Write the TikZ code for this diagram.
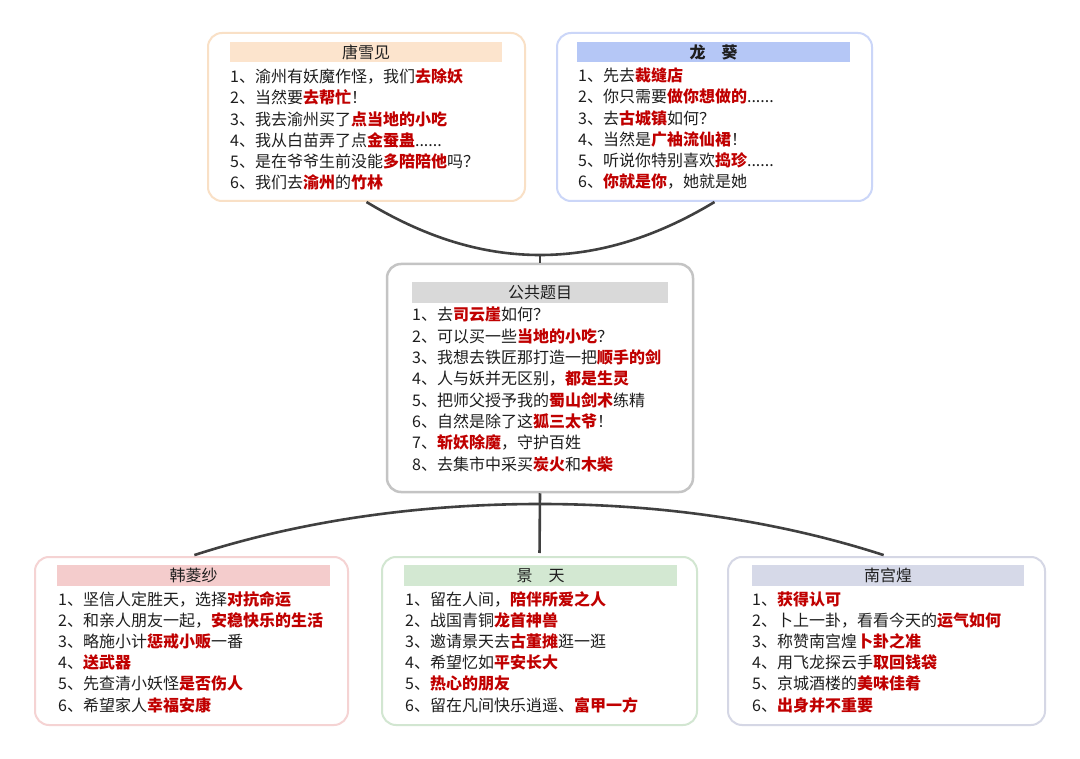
\documentclass[tikz,border=0pt]{standalone}
\usepackage{fontspec}
\setmainfont{Noto Sans CJK SC}
\definecolor{hlred}{HTML}{C00000}
\definecolor{txt}{HTML}{1E1E1E}
\definecolor{linkgray}{HTML}{404040}
\definecolor{tlbar}{HTML}{FCE4CD}
\definecolor{tlline}{HTML}{F9E0C6}
\definecolor{trbar}{HTML}{B5C7F6}
\definecolor{trline}{HTML}{CBD6F8}
\definecolor{ctbar}{HTML}{D9D9D9}
\definecolor{ctline}{HTML}{C4C4C4}
\definecolor{blbar}{HTML}{F4CCCC}
\definecolor{blline}{HTML}{F5D3D3}
\definecolor{bmbar}{HTML}{D3E8D2}
\definecolor{bmline}{HTML}{D2E6D1}
\definecolor{brbar}{HTML}{D6D9E8}
\definecolor{brline}{HTML}{D5D7E5}
\newcommand\hl[1]{\textcolor{hlred}{\bfseries #1}}
\newcommand\sixdots{......}
\tikzset{
  card/.style={line width=2pt, rounded corners=14pt, inner sep=0pt, fill=white},
  titlebar/.style={inner sep=0pt, font=\fontsize{16}{16}\selectfont, text=txt},
  item/.style={anchor=base west, inner sep=0pt, font=\fontsize{16}{16}\selectfont, text=txt},
  link/.style={draw=linkgray, line width=2.6pt},
}
\begin{document}
\begin{tikzpicture}[x=1pt,y=-1pt]
\useasboundingbox[fill=white] (0,0) rectangle (1080,759);
% cards
\node[card, draw=tlline, minimum width=317pt, minimum height=168pt] (tl) at (366.5,117) {};
\node[card, draw=trline, minimum width=315pt, minimum height=168pt] (tr) at (714.5,117) {};
\node[card, draw=ctline, line width=2.5pt, minimum width=306pt, minimum height=228pt] (ctr) at (540,378) {};
\node[card, draw=blline, minimum width=313pt, minimum height=168pt] (bl) at (191.5,641) {};
\node[card, draw=bmline, minimum width=315pt, minimum height=168pt] (bm) at (539.5,641) {};
\node[card, draw=brline, minimum width=317pt, minimum height=168pt] (br) at (886.5,641) {};
% title bars
\node[titlebar, fill=tlbar, minimum width=272pt, minimum height=20pt] (tlT) at (366,52) {唐雪见};
\node[titlebar, fill=trbar, minimum width=273pt, minimum height=20pt] (trT) at (713.5,52) {\bfseries 龙\hspace{1em}葵};
\node[titlebar, fill=ctbar, minimum width=256pt, minimum height=21pt] (ctT) at (540,292.5) {公共题目};
\node[titlebar, fill=blbar, minimum width=273pt, minimum height=21pt] (blT) at (193.5,575.5) {韩菱纱};
\node[titlebar, fill=bmbar, minimum width=273pt, minimum height=21pt] (bmT) at (540.5,575.5) {景\hspace{1em}天};
\node[titlebar, fill=brbar, minimum width=272pt, minimum height=21pt] (brT) at (888,575.5) {南宫煌};
% items
\foreach \s [count=\i from 0] in {
  {1、渝州有妖魔作怪，我们\hl{去除妖}},
  {2、当然要\hl{去帮忙}！},
  {3、我去渝州买了\hl{点当地的小吃}},
  {4、我从白苗弄了点\hl{金蚕蛊}\sixdots},
  {5、是在爷爷生前没能\hl{多陪陪他}吗？},
  {6、我们去\hl{渝州}的\hl{竹林}}}
  \node[item] (tl-\i) at (230,82.5+21.3*\i) {\s};
\foreach \s [count=\i from 0] in {
  {1、先去\hl{裁缝店}},
  {2、你只需要\hl{做你想做的}\sixdots},
  {3、去\hl{古城镇}如何？},
  {4、当然是\hl{广袖流仙裙}！},
  {5、听说你特别喜欢\hl{捣珍}\sixdots},
  {6、\hl{你就是你}，她就是她}}
  \node[item] (tr-\i) at (578,81.5+21.3*\i) {\s};
\foreach \s [count=\i from 0] in {
  {1、去\hl{司云崖}如何？},
  {2、可以买一些\hl{当地的小吃}？},
  {3、我想去铁匠那打造一把\hl{顺手的剑}},
  {4、人与妖并无区别，\hl{都是生灵}},
  {5、把师父授予我的\hl{蜀山剑术}练精},
  {6、自然是除了这\hl{狐三太爷}！},
  {7、\hl{斩妖除魔}，守护百姓},
  {8、去集市中采买\hl{炭火}和\hl{木柴}}}
  \node[item] (ct-\i) at (412,321+21.3*\i) {\s};
\foreach \s [count=\i from 0] in {
  {1、坚信人定胜天，选择\hl{对抗命运}},
  {2、和亲人朋友一起，\hl{安稳快乐的生活}},
  {3、略施小计\hl{惩戒小贩}一番},
  {4、\hl{送武器}},
  {5、先查清小妖怪\hl{是否伤人}},
  {6、希望家人\hl{幸福安康}}}
  \node[item] (bl-\i) at (58,605+21.2*\i) {\s};
\foreach \s [count=\i from 0] in {
  {1、留在人间，\hl{陪伴所爱之人}},
  {2、战国青铜\hl{龙首神兽}},
  {3、邀请景天去\hl{古董摊}逛一逛},
  {4、希望忆如\hl{平安长大}},
  {5、\hl{热心的朋友}},
  {6、留在凡间快乐逍遥、\hl{富甲一方}}}
  \node[item] (bm-\i) at (405,605+21.2*\i) {\s};
\foreach \s [count=\i from 0] in {
  {1、\hl{获得认可}},
  {2、卜上一卦，看看今天的\hl{运气如何}},
  {3、称赞南宫煌\hl{卜卦之准}},
  {4、用飞龙探云手\hl{取回钱袋}},
  {5、京城酒楼的\hl{美味佳肴}},
  {6、\hl{出身并不重要}}}
  \node[item] (br-\i) at (752,605+21.2*\i) {\s};
% connectors
\coordinate (j1) at (540,255);
\coordinate (j2) at (540,504);
\draw[link] (tl.south) .. controls +(58,35) and +(-59,0) .. (j1)
            .. controls +(59,0) and +(-58,35) .. (tr.south);
\draw[link] (j1) -- (ctr.north);
\draw[link, shorten >=3pt] (ctr.south) -- (bm.north);
\draw[link, shorten >=3pt] (j2) .. controls +(-129,0) and +(102,-33) .. (bl.north);
\draw[link, shorten >=3pt] (j2) .. controls +(129,0) and +(-102,-33) .. (br.north);
\end{tikzpicture}
\end{document}
